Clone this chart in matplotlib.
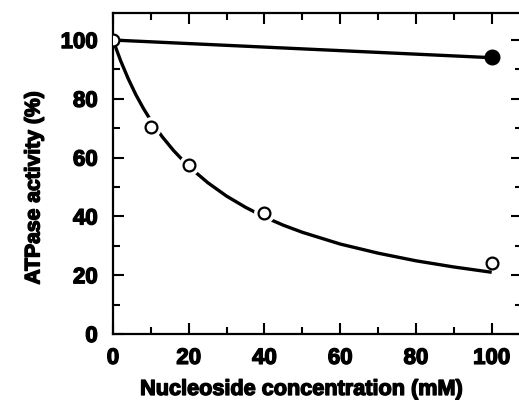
import matplotlib
matplotlib.use("Agg")
import matplotlib.pyplot as plt
import matplotlib.patheffects as pe
from matplotlib.ticker import MultipleLocator

# Data
open_x = [0, 10, 20, 40, 100]
open_y = [100, 70.5, 57.5, 41.2, 24.1]
filled_x = [100]
filled_y = [94.4]
flat_line_x = [0, 100]
flat_line_y = [100, 94.0]
curve_x = [0, 2, 4, 6, 8, 10, 13, 16, 20, 25, 30, 35, 40, 45, 50, 60, 70, 80, 90, 100]
curve_y = [100, 93, 86.9, 81.5, 76.8, 72.6, 67.1, 62.4, 57.0, 51.5, 46.9, 43.1, 39.8, 37.0, 34.6, 30.6, 27.5, 24.9, 22.8, 21.0]

xticks = [0, 20, 40, 60, 80, 100]
yticks = [0, 20, 40, 60, 80, 100]

plt.rcParams['font.family'] = ['Liberation Sans', 'DejaVu Sans']
plt.rcParams['font.weight'] = 'bold'

fig = plt.figure(figsize=(5.19, 4.0), dpi=100)
W, H = 519, 400
left, right, top, bottom = 113, 522, 13, 334
ax = fig.add_axes([left / W, 1 - bottom / H, (right - left) / W, (bottom - top) / H])
ax.set_xlim(0, 108)
ax.set_ylim(0, 109.2)

lw = 2.4
ax.plot(flat_line_x, flat_line_y, color='black', lw=lw, solid_capstyle='butt', zorder=2)
ax.plot(curve_x, curve_y, color='black', lw=lw, solid_capstyle='butt', zorder=2)

# white halos around interior open circles
hx = [x for x in open_x if 0 < x < 100]
hy = [y for x, y in zip(open_x, open_y) if 0 < x < 100]
ax.plot(hx, hy, 'o', ms=14, color='white', mec='white', zorder=3)
ax.plot(open_x, open_y, 'o', ms=8.5, mfc='white', mec='black', mew=1.6, zorder=4)
ax.plot(filled_x, filled_y, 'o', ms=10.5, color='black', zorder=4)

for s in ax.spines.values():
    s.set_linewidth(1.6)

ax.set_xticks(xticks)
ax.set_yticks(yticks)
ax.xaxis.set_minor_locator(MultipleLocator(10))
ax.yaxis.set_minor_locator(MultipleLocator(10))
ax.tick_params(which='both', direction='in', top=True, right=True, width=1.5)
ax.tick_params(which='major', length=8)
ax.tick_params(which='minor', length=5)
ax.tick_params(axis='x', which='major', pad=10, labelsize=16)
ax.tick_params(axis='y', which='major', pad=11, labelsize=16)

heavy = [pe.withStroke(linewidth=1.0, foreground='black')]
for lab in ax.get_xticklabels() + ax.get_yticklabels():
    lab.set_fontweight('bold')
    lab.set_path_effects(heavy)

ax.set_xlabel('Nucleoside concentration (mM)', fontsize=15.6, fontweight='bold', path_effects=heavy)
ax.xaxis.set_label_coords(0.461, -0.14)
ax.set_ylabel('ATPase activity (%)', fontsize=15.2, fontweight='bold', path_effects=heavy)
ax.yaxis.set_label_coords(-0.17, 0.455)

fig.savefig('out.png', dpi=100)
